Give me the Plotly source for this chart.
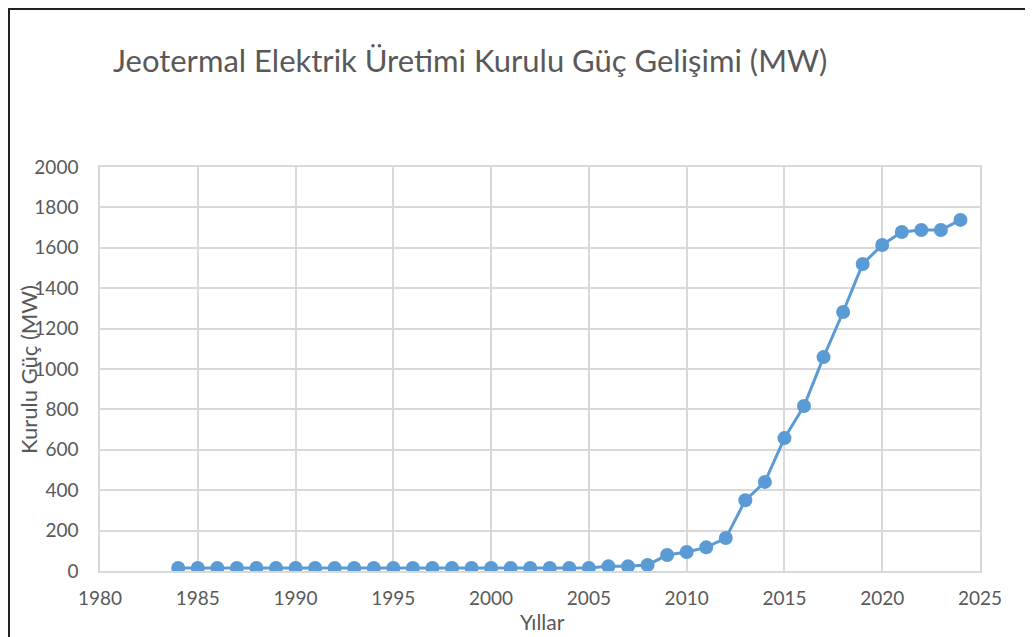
import plotly.graph_objects as go

years = list(range(1984, 2025))
capacity_mw = [15] * 22 + [23, 23, 30, 79, 94, 117, 163, 350, 441, 658, 817, 1059, 1282, 1520, 1614, 1678, 1688, 1688, 1738]

x_tick_vals = [1980, 1985, 1990, 1995, 2000, 2005, 2010, 2015, 2020, 2025]
y_tick_vals = [0, 200, 400, 600, 800, 1000, 1200, 1400, 1600, 1800, 2000]

blue = "#5B9BD5"
grey_text = "#595959"
grid = "#D9D9D9"
font_family = "Lato, 'Open Sans', sans-serif"

W, H = 1025, 629
L, R, T, B = 92, 53, 159, 66
PW, PH = W - L - R, H - T - B

fig = go.Figure()
fig.add_trace(go.Scatter(
    x=years, y=capacity_mw, mode="lines+markers",
    line=dict(color=blue, width=3),
    marker=dict(color=blue, size=14),
    showlegend=False,
))

fig.update_layout(
    width=W, height=H,
    margin=dict(l=L, r=R, t=T, b=B, autoexpand=False),
    paper_bgcolor="white", plot_bgcolor="white",
    font=dict(family=font_family, color=grey_text, size=19),
    title=dict(text="Jeotermal Elektrik Üretimi Kurulu Güç Gelişimi (MW)",
               x=105 / W, xanchor="left", y=1 - 53 / H, yanchor="middle",
               font=dict(size=31, color=grey_text, family=font_family)),
    xaxis=dict(range=[1980, 2025], tickvals=x_tick_vals, showgrid=True, gridcolor=grid, gridwidth=1.5,
               zeroline=False, showline=True, linecolor=grid, linewidth=1.5, mirror=True,
               ticks="", tickfont=dict(size=19, color=grey_text), ticklabelstandoff=9),
    yaxis=dict(range=[0, 2000], tickvals=y_tick_vals, showgrid=True, gridcolor=grid, gridwidth=1.5,
               zeroline=False, showline=True, linecolor=grid, linewidth=1.5, mirror=True,
               ticks="", tickfont=dict(size=19, color=grey_text), ticklabelstandoff=16),
    annotations=[
        dict(text="Kurulu Güç (MW)", textangle=-90, xref="paper", yref="paper",
             x=(20 - L) / PW, y=(H - B - 362) / PH, xanchor="center", yanchor="middle", showarrow=False,
             font=dict(size=22, color=grey_text, family=font_family)),
        dict(text="Yıllar", xref="paper", yref="paper",
             x=(534 - L) / PW, y=-(613 - (H - B)) / PH, xanchor="center", yanchor="middle", showarrow=False,
             font=dict(size=21, color=grey_text, family=font_family)),
    ],
    shapes=[
        dict(type="line", xref="paper", yref="paper", x0=-L / PW, x1=2, y0=1 + (T - 1) / PH, y1=1 + (T - 1) / PH,
             line=dict(color="#222222", width=2)),
        dict(type="line", xref="paper", yref="paper", x0=-(L - 1) / PW, x1=-(L - 1) / PW, y0=1 + T / PH, y1=-2,
             line=dict(color="#222222", width=2)),
    ],
)

fig.write_html("out.html")
